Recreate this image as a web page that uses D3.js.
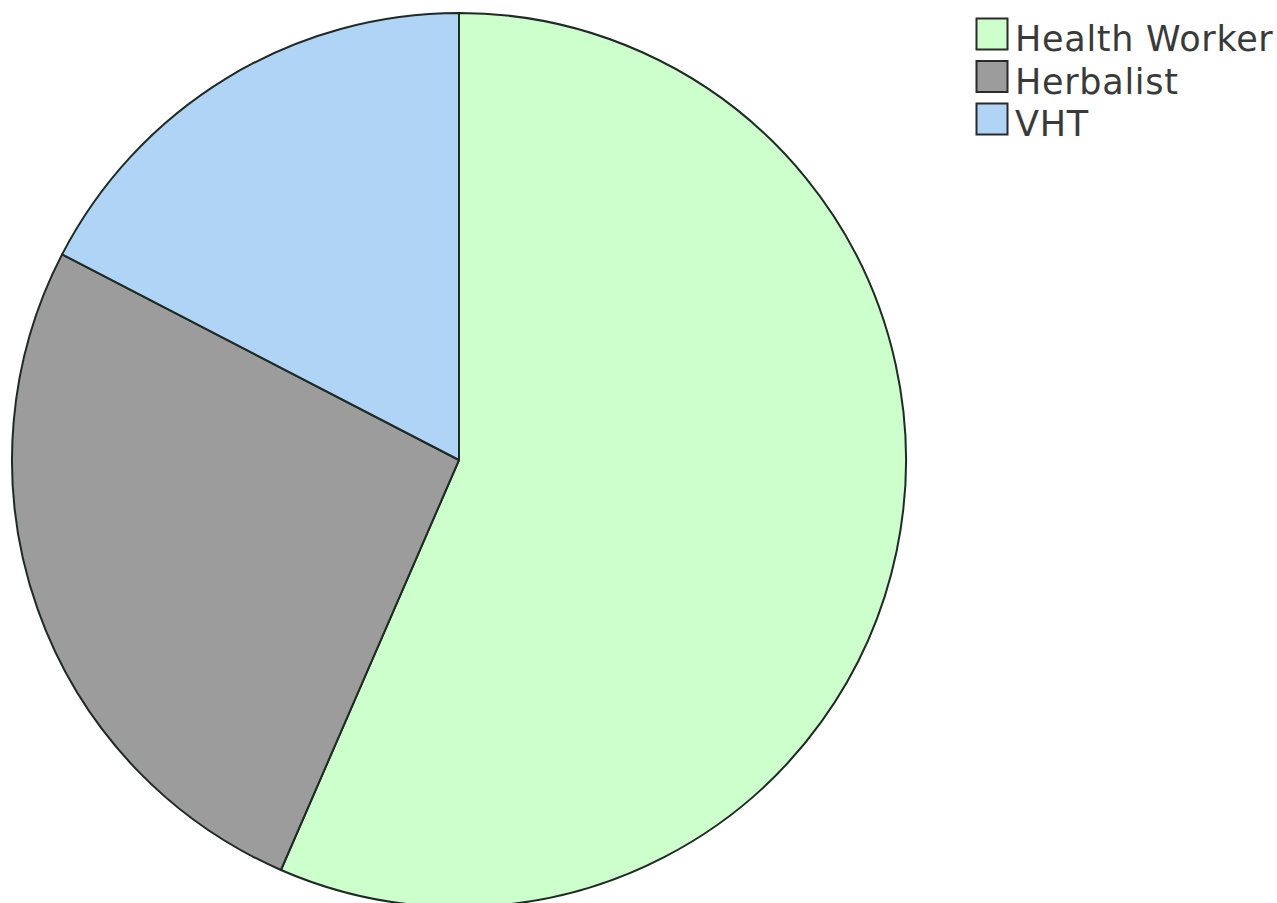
<!DOCTYPE html>
<html>
<head>
<meta charset="utf-8">
<script src="https://cdn.jsdelivr.net/npm/d3@7"></script>
<style>
  html, body { margin: 0; padding: 0; background: #fff; }
  svg { display: block; }
</style>
</head>
<body>
<svg id="chart" width="1277" height="903"></svg>
<script>
// Who people consulted
const categories = ["Health Worker", "Herbalist", "VHT"];
const counts = [13, 6, 4];
const colors = ["#ccffcc", "#9c9c9c", "#afd4f6"];

const width = 1277, height = 903;
const cx = 459, cy = 460, radius = 447;

const svg = d3.select("#chart");

const pie = d3.pie().sort(null).value(d => d.value);
const arc = d3.arc().innerRadius(0).outerRadius(radius);
const color = d3.scaleOrdinal().domain(categories).range(colors);

const data = categories.map((c, i) => ({ name: c, value: counts[i] }));

svg.append("g")
  .attr("transform", `translate(${cx},${cy})`)
  .selectAll("path")
  .data(pie(data))
  .join("path")
  .attr("d", arc)
  .attr("fill", d => color(d.data.name))
  .attr("stroke", "#1f2a24")
  .attr("stroke-width", 2)
  .attr("stroke-linejoin", "round");

// Legend
const legend = svg.append("g").attr("transform", "translate(976,18)");
const rowH = 42.5, box = 31;
const rows = legend.selectAll("g")
  .data(categories)
  .join("g")
  .attr("transform", (d, i) => `translate(0,${i * rowH})`);

rows.append("rect")
  .attr("x", 0.5).attr("y", 0.5)
  .attr("width", box).attr("height", box)
  .attr("fill", d => color(d))
  .attr("stroke", "#2a2a2a")
  .attr("stroke-width", 2);

rows.append("text")
  .attr("x", 39)
  .attr("y", 33)
  .attr("font-family", "DejaVu Sans, Verdana, sans-serif")
  .attr("font-size", 35)
  .attr("letter-spacing", 0.7)
  .attr("fill", "#3a3a3a")
  .text(d => d);
</script>
</body>
</html>
